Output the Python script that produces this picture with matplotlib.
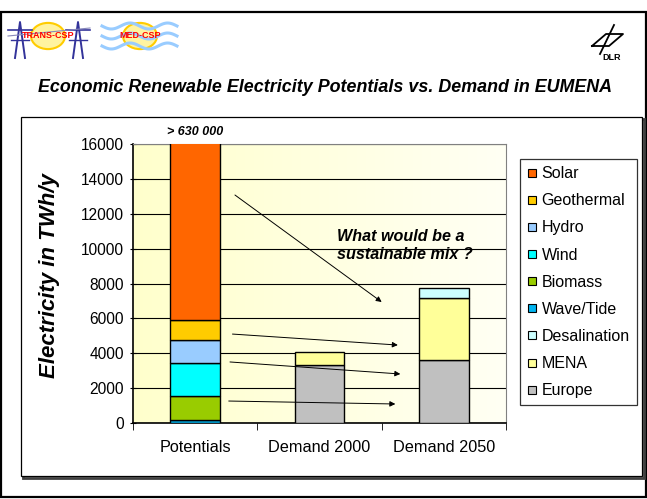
import numpy as np
import matplotlib
matplotlib.use("Agg")
import matplotlib.pyplot as plt
from matplotlib.patches import Rectangle, Circle
from matplotlib.lines import Line2D

plt.rcParams['font.family'] = ['Liberation Sans', 'DejaVu Sans']

# data (TWh/y)
categories = ["Potentials", "Demand 2000", "Demand 2050"]
series = ["Wave/Tide", "Biomass", "Wind", "Hydro", "Geothermal", "Solar",
          "Europe", "MENA", "Desalination"]
wave_tide = [200, 0, 0]
biomass = [1330, 0, 0]
wind = [1930, 0, 0]
hydro = [1320, 0, 0]
geothermal = [1110, 0, 0]
solar = [630000, 0, 0]
europe = [0, 3300, 3600]
mena = [0, 750, 3540]
desalination = [0, 0, 610]
values = [wave_tide, biomass, wind, hydro, geothermal, solar, europe, mena, desalination]
colors = {"Solar": "#FF6600", "Geothermal": "#FFCC00", "Hydro": "#99CCFF",
          "Wind": "#00FFFF", "Biomass": "#99CC00", "Wave/Tide": "#00B4F0",
          "Desalination": "#CCFFFF", "MENA": "#FFFF99", "Europe": "#C0C0C0"}
legend_order = ["Solar", "Geothermal", "Hydro", "Wind", "Biomass", "Wave/Tide",
                "Desalination", "MENA", "Europe"]

W, H = 647, 499
fig = plt.figure(figsize=(W / 100, H / 100), dpi=100)

def px(x0, y0, x1, y1):
    # pixel box (top-left origin) -> figure fraction rect
    return [x0 / W, 1 - y1 / H, (x1 - x0) / W, (y1 - y0) / H]

# slide frame and chart-area frame (behind the axes)
fig.patches.append(Rectangle((1 / W, 1 - 497 / H), 645 / W, 485 / H, transform=fig.transFigure,
                             fill=False, ec="black", lw=1.6, zorder=-3))
fig.patches.append(Rectangle((23 / W, 1 - 478 / H), 621 / W, 359 / H, transform=fig.transFigure,
                             fill=False, ec="#404040", lw=2.0, zorder=-2))
fig.patches.append(Rectangle((21 / W, 1 - 476 / H), 621 / W, 359 / H, transform=fig.transFigure,
                             fc="white", ec="black", lw=0.9, zorder=-1))

ax = fig.add_axes(px(133, 144, 506, 423))
x = np.arange(len(categories))
ymax = 16000

# pale yellow gradient background
grad = np.linspace(0, 1, 256).reshape(1, -1)
ax.imshow(grad, extent=[-0.5, 2.5, 0, ymax], aspect="auto", zorder=0,
          cmap=matplotlib.colors.LinearSegmentedColormap.from_list("bg", ["#FFFFCC", "#FFFFF4"]))

bottom = np.zeros(len(categories))
for name, vals in zip(series, values):
    v = np.array(vals, dtype=float)
    mask = v > 0
    ax.bar(x[mask], v[mask], 0.4, bottom=bottom[mask], color=colors[name],
           edgecolor="black", linewidth=1.0, zorder=3)
    bottom += v

ax.set_xlim(-0.5, 2.5)
ax.set_ylim(0, ymax)
ax.set_yticks(np.arange(0, ymax + 1, 2000))
ax.yaxis.grid(True, color="black", lw=0.8, zorder=1)
ax.set_axisbelow(True)
ax.set_xticks(x)
ax.set_xticklabels(categories, fontsize=11.7)
ax.set_xticks([-0.5, 0.5, 1.5, 2.5], minor=True)
ax.tick_params(axis="x", which="major", length=0, pad=12)
ax.tick_params(axis="x", which="minor", length=5, direction="out", color="black")
ax.tick_params(axis="y", length=5, direction="inout", labelsize=11.2, pad=4)
for s in ["top", "right"]:
    ax.spines[s].set_color("#808080")
for s in ["left", "bottom"]:
    ax.spines[s].set_color("black")
    ax.spines[s].set_linewidth(1.2)

ax.set_ylabel("Electricity in TWh/y", fontsize=16, fontweight="bold", fontstyle="italic")
ax.yaxis.set_label_coords(-0.196, 0.527)
ax.text(0, ymax * 1.02, "> 630 000", ha="center", va="bottom", fontsize=9,
        fontweight="bold", fontstyle="italic")
ax.text(1.14, 11100, "What would be a\nsustainable mix ?", ha="left", va="top", fontsize=11.6,
        fontweight="bold", fontstyle="italic", linespacing=1.2)

arrows = [((0.32, 13075), (1.50, 6940)), ((0.30, 5100), (1.63, 4470)),
          ((0.28, 3500), (1.65, 2810)), ((0.27, 1260), (1.61, 1090))]
for start, end in arrows:
    ax.annotate("", xy=end, xytext=start, zorder=5,
                arrowprops=dict(arrowstyle="-|>", color="black", lw=0.7,
                                mutation_scale=8, shrinkA=0, shrinkB=0))

handles = [Line2D([], [], ls="", marker="s", markersize=5.5, markerfacecolor=colors[n],
                  markeredgecolor="black", markeredgewidth=0.8) for n in legend_order]
leg = fig.legend(handles, legend_order, loc="upper left", bbox_to_anchor=(520 / W, 1 - 159 / H),
                 frameon=True, fancybox=False, edgecolor="black", fontsize=11.5,
                 handlelength=0.55, handletextpad=0.35, labelspacing=0.76, borderpad=0.45,
                 borderaxespad=0)
leg.get_frame().set_linewidth(0.9)

fig.text(325 / W, 1 - 88 / H, "Economic Renewable Electricity Potentials vs. Demand in EUMENA",
         ha="center", va="center", fontsize=12.9, fontweight="bold", fontstyle="italic")

# logos (simple sketches)
for cx, label in [(48, "TRANS-CSP"), (140, "MED-CSP")]:
    fig.patches.append(Circle((cx / W, 1 - 36 / H), 17 / W, transform=fig.transFigure,
                              fc="#FFF3A0", ec="#FFCC00", lw=1.5))
for px0 in (20, 78):
    xs = np.array([px0 - 5, px0, px0 + 5]) / W
    fig.lines.append(Line2D(xs, 1 - np.array([58, 22, 58]) / H, transform=fig.transFigure,
                            color="#33339A", lw=1.4))
    fig.lines.append(Line2D([(px0 - 12) / W, (px0 + 12) / W], [1 - 30 / H] * 2,
                            transform=fig.transFigure, color="#33339A", lw=1.2))
    fig.lines.append(Line2D([(px0 - 9) / W, (px0 + 9) / W], [1 - 40 / H] * 2,
                            transform=fig.transFigure, color="#33339A", lw=1.0))
fig.lines.append(Line2D([8 / W, 90 / W], [1 - 36 / H, 1 - 28 / H], transform=fig.transFigure,
                        color="#8888BB", lw=0.8))
t = np.linspace(0, 1, 60)
for dy in (-10, 0, 10):
    fig.lines.append(Line2D((102 + 75 * t) / W, 1 - (36 + dy + 3 * np.sin(t * 4 * np.pi)) / H,
                            transform=fig.transFigure, color="#99CCFF", lw=2.2))
for cx, label in [(48, "TRANS-CSP"), (140, "MED-CSP")]:
    fig.text(cx / W, 1 - 36 / H, label, ha="center", va="center", fontsize=6.5,
             fontweight="bold", color="red", zorder=5)
fig.text(612 / W, 1 - 58 / H, "DLR", ha="center", va="center", fontsize=6.5, fontweight="bold")
fig.lines.append(Line2D(np.array([592, 606, 623, 609, 592]) / W,
                        1 - np.array([46, 34, 34, 46, 46]) / H, transform=fig.transFigure,
                        color="black", lw=1.3))
fig.lines.append(Line2D(np.array([600, 614]) / W, 1 - np.array([54, 25]) / H,
                        transform=fig.transFigure, color="black", lw=1.3))

fig.savefig("out.png", dpi=100)
